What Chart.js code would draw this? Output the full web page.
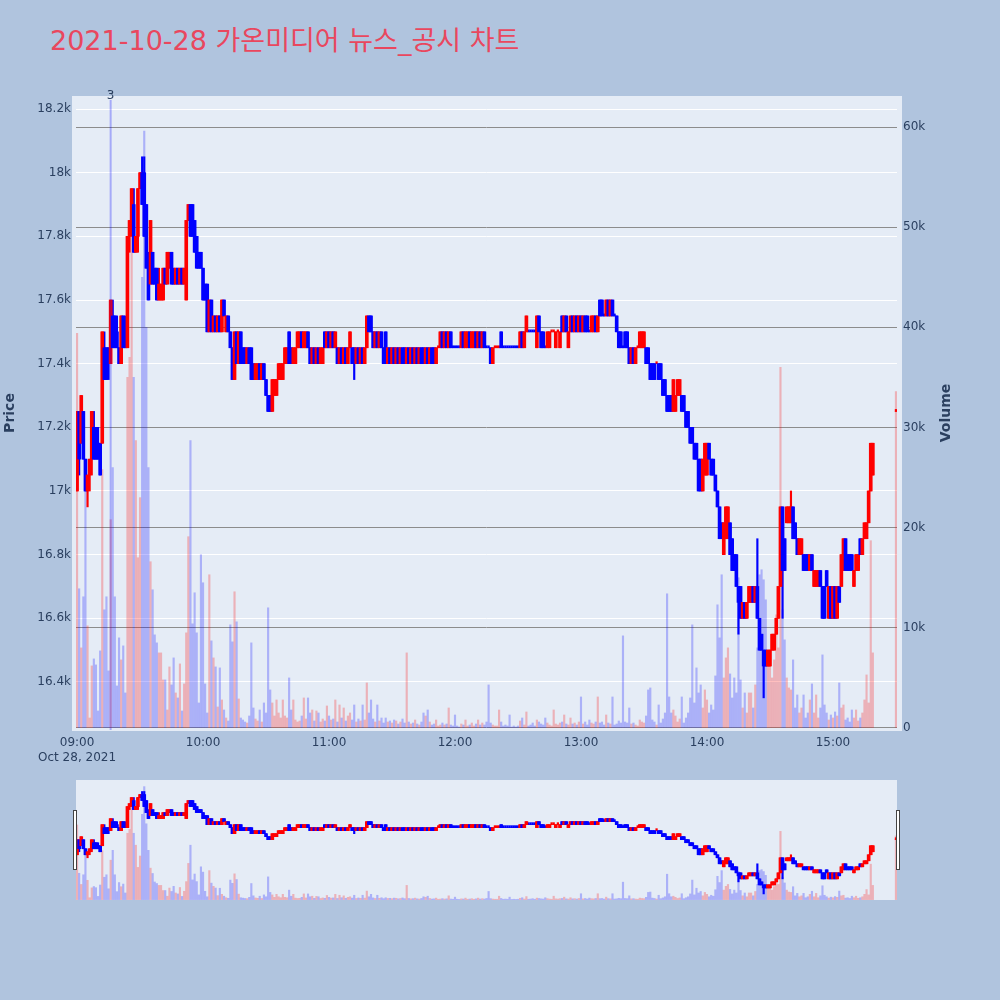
<!DOCTYPE html>
<html>
<head>
<meta charset="utf-8">
<script src="https://cdn.jsdelivr.net/npm/chart.js@4.4.0/dist/chart.umd.min.js"></script>
<style>
  body { margin: 0; background: #B0C4DE; width: 1000px; height: 1000px; overflow: hidden; position: relative; }
  #title { position: absolute; left: 50px; top: 23px; font: 27px "DejaVu Sans", "Noto Sans CJK KR", sans-serif; line-height: 35px; color: #E9475E; white-space: nowrap; }
  #main { position: absolute; left: 0; top: 0; }
  #slider { position: absolute; left: 70px; top: 780px; }
</style>
</head>
<body>
<div id="title">2021-10-28 가온미디어 뉴스_공시 차트</div>
<canvas id="main" width="1000" height="780"></canvas>
<canvas id="slider" width="833" height="120"></canvas>
<script>
// Data (1-minute candles)
const times = [
  '09:00','09:01','09:02','09:03','09:04','09:05','09:06','09:07','09:08','09:09','09:10','09:11','09:12','09:13','09:14','09:15','09:16','09:17','09:18','09:19',
  '09:20','09:21','09:22','09:23','09:24','09:25','09:26','09:27','09:28','09:29','09:30','09:31','09:32','09:33','09:34','09:35','09:36','09:37','09:38','09:39',
  '09:40','09:41','09:42','09:43','09:44','09:45','09:46','09:47','09:48','09:49','09:50','09:51','09:52','09:53','09:54','09:55','09:56','09:57','09:58','09:59',
  '10:00','10:01','10:02','10:03','10:04','10:05','10:06','10:07','10:08','10:09','10:10','10:11','10:12','10:13','10:14','10:15','10:16','10:17','10:18','10:19',
  '10:20','10:21','10:22','10:23','10:24','10:25','10:26','10:27','10:28','10:29','10:30','10:31','10:32','10:33','10:34','10:35','10:36','10:37','10:38','10:39',
  '10:40','10:41','10:42','10:43','10:44','10:45','10:46','10:47','10:48','10:49','10:50','10:51','10:52','10:53','10:54','10:55','10:56','10:57','10:58','10:59',
  '11:00','11:01','11:02','11:03','11:04','11:05','11:06','11:07','11:08','11:09','11:10','11:11','11:12','11:13','11:14','11:15','11:16','11:17','11:18','11:19',
  '11:20','11:21','11:22','11:23','11:24','11:25','11:26','11:27','11:28','11:29','11:30','11:31','11:32','11:33','11:34','11:35','11:36','11:37','11:38','11:39',
  '11:40','11:41','11:42','11:43','11:44','11:45','11:46','11:47','11:48','11:49','11:50','11:51','11:52','11:53','11:54','11:55','11:56','11:57','11:58','11:59',
  '12:00','12:01','12:02','12:03','12:04','12:05','12:06','12:07','12:08','12:09','12:10','12:11','12:12','12:13','12:14','12:15','12:16','12:17','12:18','12:19',
  '12:20','12:21','12:22','12:23','12:24','12:25','12:26','12:27','12:28','12:29','12:30','12:31','12:32','12:33','12:34','12:35','12:36','12:37','12:38','12:39',
  '12:40','12:41','12:42','12:43','12:44','12:45','12:46','12:47','12:48','12:49','12:50','12:51','12:52','12:53','12:54','12:55','12:56','12:57','12:58','12:59',
  '13:00','13:01','13:02','13:03','13:04','13:05','13:06','13:07','13:08','13:09','13:10','13:11','13:12','13:13','13:14','13:15','13:16','13:17','13:18','13:19',
  '13:20','13:21','13:22','13:23','13:24','13:25','13:26','13:27','13:28','13:29','13:30','13:31','13:32','13:33','13:34','13:35','13:36','13:37','13:38','13:39',
  '13:40','13:41','13:42','13:43','13:44','13:45','13:46','13:47','13:48','13:49','13:50','13:51','13:52','13:53','13:54','13:55','13:56','13:57','13:58','13:59',
  '14:00','14:01','14:02','14:03','14:04','14:05','14:06','14:07','14:08','14:09','14:10','14:11','14:12','14:13','14:14','14:15','14:16','14:17','14:18','14:19',
  '14:20','14:21','14:22','14:23','14:24','14:25','14:26','14:27','14:28','14:29','14:30','14:31','14:32','14:33','14:34','14:35','14:36','14:37','14:38','14:39',
  '14:40','14:41','14:42','14:43','14:44','14:45','14:46','14:47','14:48','14:49','14:50','14:51','14:52','14:53','14:54','14:55','14:56','14:57','14:58','14:59',
  '15:00','15:01','15:02','15:03','15:04','15:05','15:06','15:07','15:08','15:09','15:10','15:11','15:12','15:13','15:14','15:15','15:16','15:17','15:18','15:19',
  '15:30'
];

const opens = [
  17000,17250,17150,17250,17100,17000,17050,17100,17200,17200, 17150,17150,17150,17450,17450,17450,17400,17550,17550,17500,
  17450,17400,17550,17500,17450,17800,17850,17900,17750,17800, 17950,18000,18000,17900,17700,17650,17750,17700,17700,17600,
  17600,17600,17700,17650,17700,17750,17700,17650,17700,17650, 17700,17650,17600,17850,17900,17900,17850,17800,17750,17750,
  17700,17650,17650,17500,17600,17500,17550,17500,17550,17500, 17600,17500,17550,17500,17450,17350,17500,17400,17500,17450,
  17450,17400,17450,17450,17400,17350,17350,17400,17350,17400, 17350,17300,17300,17250,17300,17300,17350,17350,17350,17400,
  17400,17500,17450,17400,17400,17450,17450,17500,17450,17450, 17500,17450,17400,17450,17400,17450,17400,17400,17500,17450,
  17500,17450,17500,17450,17450,17400,17450,17400,17450,17400, 17450,17450,17450,17400,17450,17400,17450,17400,17450,17550,
  17550,17500,17450,17500,17450,17500,17450,17500,17400,17450, 17400,17450,17400,17450,17400,17450,17450,17400,17450,17400,
  17450,17400,17450,17400,17450,17450,17400,17450,17400,17450, 17450,17400,17450,17450,17500,17450,17500,17450,17500,17450,
  17450,17450,17450,17450,17500,17450,17450,17500,17450,17450, 17500,17450,17500,17450,17500,17450,17450,17450,17400,17450,
  17450,17450,17500,17450,17450,17450,17450,17450,17450,17450, 17450,17450,17500,17450,17500,17500,17500,17500,17500,17450,
  17550,17500,17500,17450,17450,17450,17500,17500,17450,17500, 17450,17550,17500,17550,17450,17500,17550,17500,17550,17500,
  17550,17500,17550,17550,17500,17500,17500,17550,17500,17600, 17600,17550,17550,17600,17550,17600,17550,17550,17500,17500,
  17450,17500,17500,17450,17400,17450,17400,17450,17450,17450, 17450,17450,17450,17400,17400,17400,17400,17400,17400,17350,
  17350,17300,17300,17300,17250,17250,17300,17300,17300,17300, 17250,17250,17200,17200,17150,17150,17100,17100,17000,17050,
  17050,17150,17100,17100,17050,17000,16950,16900,16800,16850, 16850,16900,16850,16800,16800,16700,16700,16600,16650,16600,
  16650,16650,16700,16650,16700,16600,16550,16500,16500,16450, 16450,16500,16500,16550,16600,16700,16950,16850,16900,16900,
  16900,16950,16900,16850,16800,16800,16800,16800,16800,16750, 16800,16700,16700,16700,16750,16700,16700,16750,16600,16700,
  16600,16700,16600,16700,16700,16750,16850,16800,16800,16800, 16700,16750,16750,16850,16800,16850,16850,16900,17000,17050,
  17250
];

const highs = [
  17250,17250,17300,17250,17100,17050,17100,17250,17250,17200, 17200,17150,17500,17500,17450,17450,17600,17600,17550,17550,
  17450,17550,17550,17550,17800,17850,17950,17950,17800,17950, 18000,18050,18050,17900,17750,17850,17750,17700,17700,17700,
  17650,17700,17700,17750,17750,17750,17700,17700,17700,17700, 17700,17700,17850,17900,17900,17900,17850,17800,17750,17750,
  17700,17650,17650,17600,17600,17550,17550,17550,17550,17600, 17600,17550,17550,17500,17450,17500,17500,17500,17500,17450,
  17450,17450,17450,17450,17400,17400,17400,17400,17400,17400, 17350,17300,17300,17350,17350,17350,17400,17400,17400,17450,
  17450,17500,17450,17450,17450,17500,17500,17500,17500,17500, 17500,17450,17450,17450,17450,17450,17450,17450,17500,17500,
  17500,17500,17500,17500,17450,17450,17450,17450,17450,17450, 17500,17450,17450,17450,17450,17450,17450,17450,17550,17550,
  17550,17500,17500,17500,17500,17500,17450,17500,17450,17450, 17450,17450,17450,17450,17450,17450,17450,17450,17450,17450,
  17450,17450,17450,17450,17450,17450,17450,17450,17450,17450, 17450,17450,17450,17500,17500,17500,17500,17500,17500,17450,
  17450,17450,17450,17500,17500,17500,17500,17500,17500,17500, 17500,17500,17500,17500,17500,17450,17450,17450,17450,17450,
  17450,17450,17500,17450,17450,17450,17450,17450,17450,17450, 17450,17500,17500,17500,17550,17500,17500,17500,17500,17550,
  17550,17500,17500,17450,17500,17500,17500,17500,17500,17500, 17500,17550,17550,17550,17500,17550,17550,17550,17550,17550,
  17550,17550,17550,17550,17500,17550,17550,17550,17550,17600, 17600,17550,17600,17600,17600,17600,17550,17550,17500,17500,
  17450,17500,17500,17450,17450,17450,17450,17450,17500,17500, 17500,17450,17450,17400,17400,17400,17400,17400,17400,17350,
  17350,17300,17300,17300,17350,17300,17350,17350,17300,17300, 17250,17250,17200,17200,17150,17150,17100,17100,17100,17150,
  17150,17150,17100,17100,17050,17000,16950,16900,16900,16950, 16950,16900,16850,16800,16800,16700,16700,16650,16650,16650,
  16700,16700,16700,16700,16850,16600,16550,16500,16500,16500, 16500,16550,16550,16600,16700,16950,16950,16850,16950,16950,
  17000,16950,16900,16850,16850,16850,16800,16800,16800,16800, 16800,16750,16750,16750,16750,16700,16700,16750,16700,16700,
  16700,16700,16700,16700,16800,16850,16850,16800,16800,16800, 16750,16800,16800,16850,16850,16900,16900,17000,17150,17150,
  17250
];

const lows = [
  17000,17050,17150,17100,17000,16950,17000,17050,17100,17100, 17100,17050,17150,17350,17350,17350,17400,17450,17450,17450,
  17400,17400,17450,17450,17450,17750,17800,17750,17750,17750, 17950,17900,17800,17700,17600,17650,17650,17650,17600,17600,
  17600,17600,17650,17650,17700,17650,17650,17650,17650,17650, 17650,17650,17600,17850,17800,17800,17750,17700,17700,17700,
  17600,17600,17500,17500,17500,17500,17500,17500,17500,17500, 17550,17500,17500,17450,17350,17350,17400,17400,17400,17400,
  17400,17400,17400,17350,17350,17350,17350,17350,17350,17350, 17300,17250,17250,17250,17300,17300,17350,17350,17350,17400,
  17400,17400,17400,17400,17400,17450,17450,17450,17450,17450, 17450,17400,17400,17400,17400,17400,17400,17400,17450,17450,
  17450,17450,17450,17450,17400,17400,17400,17400,17400,17400, 17450,17400,17350,17400,17400,17400,17400,17400,17450,17500,
  17500,17450,17450,17450,17450,17450,17400,17400,17400,17400, 17400,17400,17400,17400,17400,17400,17400,17400,17400,17400,
  17400,17400,17400,17400,17400,17400,17400,17400,17400,17400, 17400,17400,17450,17450,17450,17450,17450,17450,17450,17450,
  17450,17450,17450,17450,17450,17450,17450,17450,17450,17450, 17450,17450,17450,17450,17450,17450,17450,17400,17400,17450,
  17450,17450,17450,17450,17450,17450,17450,17450,17450,17450, 17450,17450,17450,17450,17500,17500,17500,17500,17500,17450,
  17500,17450,17450,17450,17450,17450,17500,17500,17450,17500, 17450,17500,17500,17500,17450,17500,17500,17500,17500,17500,
  17500,17500,17500,17500,17500,17500,17500,17500,17500,17550, 17550,17550,17550,17550,17550,17550,17550,17500,17450,17450,
  17450,17450,17450,17400,17400,17400,17400,17450,17450,17450, 17450,17400,17400,17350,17350,17350,17400,17350,17350,17300,
  17300,17250,17250,17250,17250,17250,17300,17300,17250,17250, 17200,17200,17150,17150,17100,17100,17000,17000,17000,17050,
  17050,17100,17050,17050,17000,16950,16850,16850,16800,16850, 16850,16800,16750,16750,16700,16550,16600,16600,16600,16600,
  16650,16650,16650,16650,16600,16500,16500,16350,16450,16450, 16450,16500,16500,16550,16600,16700,16600,16750,16900,16900,
  16900,16850,16850,16800,16800,16800,16750,16750,16750,16750, 16750,16700,16700,16700,16700,16600,16600,16700,16600,16600,
  16600,16600,16600,16650,16700,16750,16750,16750,16750,16750, 16700,16750,16750,16800,16800,16850,16850,16900,17000,17050,
  17250
];

const closes = [
  17250,17100,17300,17100,17000,17050,17100,17250,17100,17100, 17100,17050,17500,17350,17350,17400,17600,17450,17450,17450,
  17400,17550,17450,17450,17800,17850,17950,17750,17800,17950, 18000,17900,17800,17700,17600,17850,17650,17650,17600,17650,
  17650,17700,17650,17750,17750,17650,17650,17700,17650,17700, 17650,17700,17850,17900,17800,17800,17750,17700,17700,17700,
  17600,17600,17500,17600,17500,17550,17500,17550,17500,17600, 17550,17550,17500,17450,17350,17500,17400,17500,17400,17400,
  17400,17450,17400,17350,17350,17400,17400,17350,17400,17350, 17300,17250,17250,17350,17350,17350,17400,17400,17400,17450,
  17450,17400,17400,17450,17450,17500,17500,17450,17500,17500, 17450,17400,17450,17400,17450,17400,17450,17450,17450,17500,
  17450,17500,17450,17500,17400,17450,17400,17450,17400,17450, 17500,17400,17400,17450,17400,17450,17400,17450,17550,17500,
  17500,17450,17500,17450,17500,17450,17400,17400,17450,17400, 17450,17400,17450,17400,17450,17400,17400,17450,17400,17450,
  17400,17450,17400,17450,17400,17400,17450,17400,17450,17400, 17400,17450,17450,17500,17450,17500,17450,17500,17450,17450,
  17450,17450,17450,17500,17450,17500,17500,17450,17500,17500, 17450,17500,17450,17500,17450,17450,17450,17400,17450,17450,
  17450,17450,17450,17450,17450,17450,17450,17450,17450,17450, 17450,17500,17450,17500,17550,17500,17500,17500,17500,17550,
  17500,17450,17450,17450,17500,17500,17500,17500,17500,17500, 17500,17500,17550,17500,17500,17550,17500,17550,17500,17550,
  17500,17550,17500,17500,17500,17550,17550,17500,17550,17550, 17550,17550,17600,17550,17600,17550,17550,17500,17450,17450,
  17450,17450,17450,17400,17450,17400,17450,17450,17500,17500, 17500,17400,17400,17350,17350,17350,17400,17350,17350,17300,
  17300,17250,17250,17250,17350,17300,17350,17350,17250,17250, 17200,17200,17150,17150,17100,17100,17000,17000,17100,17150,
  17150,17100,17050,17050,17000,16950,16850,16850,16900,16950, 16950,16800,16750,16750,16700,16650,16600,16650,16600,16650,
  16700,16700,16650,16700,16600,16500,16500,16450,16450,16500, 16500,16550,16550,16600,16700,16950,16750,16750,16950,16950,
  16950,16850,16850,16800,16850,16850,16750,16750,16750,16800, 16750,16750,16750,16750,16700,16600,16600,16700,16700,16600,
  16700,16600,16700,16650,16800,16850,16750,16750,16750,16750, 16750,16800,16800,16800,16850,16900,16900,17000,17150,17150,
  17250
];

const volumes = [
  39400,13900,8000,13100,24000,10200,1000,6200,6900,6300, 1700,7700,25800,11800,13100,5700,20800,26000,13100,4200,
  9000,6800,8200,3500,35000,37000,51400,35000,28700,17000, 23000,45000,59600,40000,26000,16600,13800,9300,8500,7500,
  7500,4800,4800,1800,6100,4300,7000,3500,3000,6400, 1700,4400,9500,19100,28700,10400,13500,9500,2500,17300,
  14500,4400,1500,15300,8700,7000,6100,2100,6000,2800, 1800,1000,700,10300,8600,13600,10600,2900,1000,800,
  600,500,1200,8500,2000,900,700,1800,600,2500, 1500,12000,3800,2500,1200,2800,1500,1000,2800,1200,
  1000,5000,1800,2800,800,600,700,1200,3000,900, 3000,1500,1800,700,1700,1500,600,900,700,2200,
  1200,800,900,2800,600,2300,1000,2000,700,1200, 1500,800,2300,600,900,700,2300,800,4500,1500,
  2800,900,600,2300,700,1000,500,1000,600,700, 500,800,700,400,600,900,500,7500,600,400,
  500,800,400,300,600,1500,1200,1800,600,300, 400,800,200,300,500,300,400,2000,300,200,
  1300,200,100,400,300,800,200,300,500,200, 400,800,300,500,300,600,4300,500,300,200,
  200,1800,600,200,300,200,1300,100,200,100, 200,700,1000,300,1600,200,300,500,200,800,
  600,400,300,1000,500,300,200,1800,400,300, 500,600,1300,400,300,1000,400,500,300,600,
  3100,400,600,300,800,500,400,600,3100,500, 600,300,1300,500,400,3100,300,400,700,500,
  9200,600,500,2000,400,500,300,200,800,600, 500,1200,3800,4000,800,600,300,2300,500,900,
  1500,13400,3100,1500,1800,1200,600,900,3100,500, 1000,1500,3000,10300,2500,6000,3500,4300,2000,3800,
  2800,1500,2300,1800,5200,12300,9000,15300,5000,7000, 8000,5400,3000,5000,3500,15000,4800,2000,3500,1500,
  3500,3500,2000,4300,8000,15300,15800,14800,12800,7500, 7800,5000,6800,11300,8000,36000,11800,8800,5000,4000,
  3800,6800,2000,3300,1500,2000,3300,1000,1500,2800, 4400,1500,3300,1000,2000,7300,2300,1500,800,1300,
  1000,1600,1200,4500,2000,2300,800,1000,600,1800, 1000,1800,700,1000,1500,2800,5300,2500,18700,7500,
  33600
];

const timeTicks = ['09:00', '10:00', '11:00', '12:00', '13:00', '14:00', '15:00'];
const dateLabel = 'Oct 28, 2021';
const priceTicks = [16400, 16600, 16800, 17000, 17200, 17400, 17600, 17800, 18000, 18200];
const volumeTicks = [0, 10000, 20000, 30000, 40000, 50000, 60000];
const newsTimes = ['09:16'];
const newsCounts = [3];

const TXT = '#2a3f5f';
const FONT = { family: 'DejaVu Sans', size: 12, lineHeight: 1.25 };
const PLOT_BG = '#E5ECF6';

const toMin = t => { const [h, m] = t.split(':').map(Number); return (h - 9) * 60 + m; };
const xs = times.map(toMin);
const xMin = xs[0] - 0.5;
const xMax = xs[xs.length - 1] + 0.5;

// plotly style direction: flat candles follow the previous close
const up = [];
closes.forEach((c, i) => {
  const o = opens[i];
  if (c !== o) up.push(c > o);
  else if (i === 0) up.push(true);
  else if (c !== closes[i - 1]) up.push(c > closes[i - 1]);
  else up.push(up[i - 1]);
});
const candleColor = up.map(u => u ? '#FF0000' : '#0000FF');
const volColor = up.map(u => u ? 'rgba(255,0,0,0.25)' : 'rgba(0,0,255,0.25)');

function makeDatasets() {
  return [
    {
      label: 'body', yAxisID: 'y', order: 1, grouped: false,
      data: xs.map((x, i) => opens[i] === closes[i] ? { x, y: null }
        : { x, y: [Math.min(opens[i], closes[i]), Math.max(opens[i], closes[i])] }),
      backgroundColor: candleColor, barThickness: 3
    },
    {
      // open == close: a short dash, like plotly's flat boxes
      label: 'flat', yAxisID: 'y', order: 1, grouped: false,
      data: xs.map((x, i) => opens[i] === closes[i] ? { x, y: [opens[i], closes[i]] } : { x, y: null }),
      backgroundColor: candleColor, barThickness: 1.6, minBarLength: 2
    },
    {
      label: 'wick', yAxisID: 'y', order: 2, grouped: false,
      data: xs.map((x, i) => ({ x, y: [lows[i], highs[i]] })),
      backgroundColor: candleColor, barThickness: 1.5
    },
    {
      label: 'Volume', yAxisID: 'yv', order: 3, grouped: false,
      data: xs.map((x, i) => ({ x, y: volumes[i] })),
      backgroundColor: volColor, barThickness: 1.5
    }
  ];
}

const plotBg = {
  id: 'plotBg',
  beforeDraw(chart, args, opts) {
    const { ctx, chartArea: a } = chart;
    ctx.save();
    ctx.fillStyle = PLOT_BG;
    ctx.fillRect(a.left - opts.l, a.top, a.right - a.left + opts.l + opts.r, a.bottom - a.top + opts.b);
    ctx.restore();
  }
};

// news marker line + count, and rotated Volume title
const extras = {
  id: 'extras',
  afterDatasetsDraw(chart) {
    const { ctx, chartArea: a, scales } = chart;
    ctx.save();
    newsTimes.forEach((t, i) => {
      const px = scales.x.getPixelForValue(toMin(t));
      ctx.strokeStyle = 'rgba(0,0,255,0.28)';
      ctx.lineWidth = 2;
      ctx.beginPath();
      ctx.moveTo(px, a.top + 4);
      ctx.lineTo(px, a.bottom);
      ctx.stroke();
      ctx.fillStyle = TXT;
      ctx.font = '12px "DejaVu Sans"';
      ctx.textAlign = 'center';
      ctx.textBaseline = 'middle';
      ctx.fillText(String(newsCounts[i]), px, a.top);
    });
    const yv = scales.yv;
    ctx.translate(yv.right - 10, (a.top + a.bottom) / 2);
    ctx.rotate(-Math.PI / 2);
    ctx.font = 'bold 14px "DejaVu Sans"';
    ctx.fillStyle = TXT;
    ctx.textAlign = 'center';
    ctx.textBaseline = 'middle';
    ctx.fillText('Volume', 0, 0);
    ctx.restore();
  }
};

new Chart(document.getElementById('main'), {
  type: 'bar',
  data: { datasets: makeDatasets() },
  options: {
    responsive: false,
    animation: false,
    layout: { padding: { left: 0, right: 44, top: 96, bottom: 0 } },
    plugins: {
      legend: { display: false },
      tooltip: { enabled: false },
      plotBg: { l: 4, r: 5, b: 1 }
    },
    scales: {
      x: {
        type: 'linear', min: xMin, max: xMax, offset: false,
        grid: { display: false, drawTicks: false }, border: { display: false },
        afterBuildTicks: s => { s.ticks = timeTicks.map(t => ({ value: toMin(t) })); },
        afterFit: s => { s.height = 50; },
        ticks: {
          autoSkip: false, maxRotation: 0, padding: 5, color: TXT, font: FONT,
          callback: v => {
            const lbl = timeTicks.find(t => toMin(t) === v);
            return v === toMin(timeTicks[0]) ? [lbl, dateLabel] : lbl;
          }
        }
      },
      y: {
        position: 'left', min: 16249, max: 18241,
        grid: { color: '#ffffff', lineWidth: 1, drawTicks: false }, border: { display: false },
        afterBuildTicks: s => { s.ticks = priceTicks.map(v => ({ value: v })); },
        afterFit: s => { s.width = 76; },
        ticks: { padding: 5, color: TXT, font: FONT, callback: v => (v / 1000) + 'k' },
        title: { display: true, text: 'Price', color: TXT, font: { family: 'DejaVu Sans', size: 14, weight: 'bold' }, padding: { top: 2, bottom: 0 } }
      },
      yv: {
        position: 'right', min: -200, max: 63100,
        grid: { color: '#8c8c8c', lineWidth: 1, drawTicks: false }, border: { display: false },
        afterBuildTicks: s => { s.ticks = volumeTicks.map(v => ({ value: v })); },
        afterFit: s => { s.width = 59; },
        ticks: { padding: 6, color: TXT, font: FONT, callback: v => v === 0 ? '0' : (v / 1000) + 'k' }
      }
    }
  },
  plugins: [plotBg, extras]
});

// range slider: same data, same ranges, squeezed
const handles = {
  id: 'handles',
  afterDraw(chart) {
    const { ctx, chartArea: a } = chart;
    ctx.save();
    ctx.fillStyle = '#ffffff';
    ctx.strokeStyle = '#444444';
    ctx.lineWidth = 1;
    [a.left - 3, a.right - 1].forEach(hx => {
      ctx.fillRect(hx, a.top + 30, 4, 60);
      ctx.strokeRect(hx + 0.5, a.top + 30.5, 3, 59);
    });
    ctx.restore();
  }
};

new Chart(document.getElementById('slider'), {
  type: 'bar',
  data: { datasets: makeDatasets() },
  options: {
    responsive: false,
    animation: false,
    layout: { padding: { left: 6, right: 6, top: 0, bottom: 0 } },
    plugins: { legend: { display: false }, tooltip: { enabled: false }, plotBg: { l: 0, r: 0, b: 0 } },
    scales: {
      x: { type: 'linear', min: xMin, max: xMax, offset: false, display: false },
      y: { min: 16249, max: 18241, display: false },
      yv: { position: 'right', min: -200, max: 63100, display: false }
    }
  },
  plugins: [plotBg, handles]
});
</script>
</body>
</html>
